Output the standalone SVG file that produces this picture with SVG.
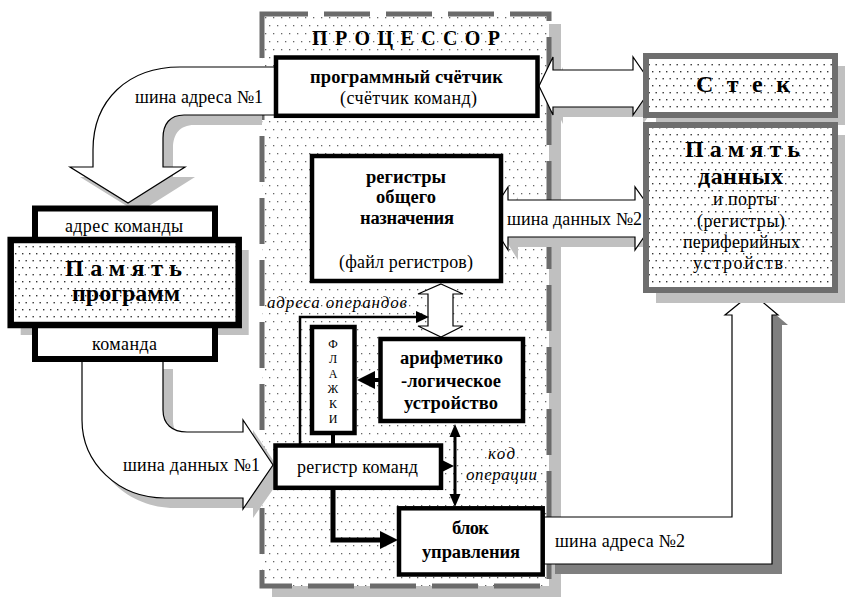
<svg xmlns="http://www.w3.org/2000/svg" width="845" height="597" viewBox="0 0 845 597">
<defs>
<pattern id="dotsP" width="8" height="16" patternUnits="userSpaceOnUse"><rect x="1" y="1" width="1.3" height="1.3" fill="#666"/><rect x="5" y="9" width="1.3" height="1.3" fill="#666"/></pattern>
<pattern id="dotsM" width="7" height="14" patternUnits="userSpaceOnUse"><rect x="1" y="1" width="1.4" height="1.4" fill="#333"/><rect x="4.5" y="8" width="1.4" height="1.4" fill="#333"/></pattern>
<style>
text{font-family:"Liberation Serif","Times New Roman",serif;fill:#000}
.n{font-size:18px}
.b{font-size:18.5px;font-weight:bold}
.B{font-size:24px;font-weight:bold}
.i{font-size:17px;font-style:italic}
.f{font-size:12px}
.box{fill:#fff;stroke:#000;stroke-width:4.5}
.bus{fill:#fff;stroke:#000;stroke-width:1.2;stroke-linejoin:miter}
.sh{fill:#c0c0c0}
.sh2{fill:#7f7f7f}
.ln{fill:none;stroke:#000}
.ah{fill:#000}
.mem{stroke:#6e6e6e;stroke-width:6}
</style>
</defs>
<rect width="845" height="597" fill="#fff"/>

<g id="processor">
<rect class="sh" x="272" y="24" width="289" height="573"/>
<rect x="262" y="14" width="287" height="572" fill="#fff"/>
<rect x="262" y="14" width="287" height="572" fill="url(#dotsP)"/>
<rect x="262" y="14" width="287" height="572" fill="none" stroke="#6b6b6b" stroke-width="5" stroke-dasharray="46 16"/>
<text x="312" y="45" textLength="188" lengthAdjust="spacing" style="font-size:20px;font-weight:bold">П Р О Ц Е С С О Р</text>
</g>

<g id="connectors">
<path class="sh" d="M262 77 L190 77 C138 77 103 110 103 160 L103 177 L80 177 L138 213 L195 177 L173 177 L173 148 C173 134 180 125 194 125 L262 125 Z"/>
<path class="bus" d="M276 67 L180 67 C128 67 93 100 93 150 L93 167 L70 167 L128 203 L185 167 L163 167 L163 138 C163 124 170 115 184 115 L276 115 Z"/>
<text class="n" x="135" y="103" textLength="128" lengthAdjust="spacing">шина адреса №1</text>

<path class="sh" d="M92 369 L92 430 C92 473 128 508 175 508 L253 508 L253 518 L283 475 L253 430 L253 442 L197 442 C182 442 173 434 173 420 L173 369 Z"/>
<path class="bus" d="M82 359 L82 420 C82 463 118 498 165 498 L243 498 L243 509 L273 465 L243 420 L243 432 L187 432 C172 432 163 424 163 410 L163 359 Z"/>
<text class="n" x="123" y="471" textLength="137" lengthAdjust="spacing">шина данных №1</text>

<path class="sh" d="M549 95 L563 67 L563 80 L643 80 L643 67 L663 96 L643 124 L643 117 L563 117 L563 124 Z"/>
<path class="bus" d="M539 86 L553 57 L553 70 L633 70 L633 57 L653 86 L633 115 L633 107 L553 107 L553 115 Z"/>

<path class="sh" d="M498 228 L518 197 L518 210 L645 210 L645 197 L667 228 L645 260 L645 247 L518 247 L518 260 Z"/>
<path class="bus" d="M488 218 L508 187 L508 200 L635 200 L635 187 L657 218 L635 250 L635 237 L508 237 L508 250 Z"/>
<text class="n" x="507" y="225" textLength="135" lengthAdjust="spacing">шина данных №2</text>

<path class="sh2" d="M555 527 L742 527 L742 325 L735 325 L762 303 L788 325 L782 325 L782 574 L555 574 Z"/>
<path class="bus" d="M542 517 L732 517 L732 315 L725 315 L752 293 L778 315 L772 315 L772 564 L542 564 Z"/>
<text class="n" x="555" y="547" textLength="130" lengthAdjust="spacing">шина адреса №2</text>

<path class="bus" d="M441 284 L463 294 L453 294 L453 326 L463 326 L441 337 L418 326 L428 326 L428 294 L418 294 Z"/>

<path class="ln" stroke-width="2.5" d="M300 446 L300 317 L418 317"/>
<path class="ah" d="M429 317 L416 311 L416 323 Z"/>
<text class="i" x="267" y="308" textLength="140" lengthAdjust="spacing">адреса операндов</text>

<path class="ln" stroke-width="4" d="M379 380 L372 380"/>
<path class="ah" d="M357 380 L375 371 L375 389 Z"/>

<path class="ln" stroke-width="4" d="M333 432 L333 446"/>

<path class="ln" stroke-width="3" d="M455 434 L455 498"/>
<path class="ah" d="M455 424 L449.5 437 L460.5 437 Z"/>
<path class="ah" d="M455 507 L449.5 494 L460.5 494 Z"/>
<path class="ah" d="M454 466 L442 460 L442 472 Z"/>
<text class="i" x="488" y="459" textLength="27" lengthAdjust="spacing">код</text>
<text class="i" x="466" y="480" textLength="71" lengthAdjust="spacing">операции</text>

<path class="ln" stroke-width="5" d="M333 488 L333 540 L384 540"/>
<path class="ah" d="M398 540 L380 531 L380 549 Z"/>
</g>

<g id="program-memory">
<rect class="sh" x="20.7" y="250" width="228" height="85"/>
<rect x="35" y="208.5" width="180" height="40" fill="#fff" stroke="#000" stroke-width="6"/>
<rect x="35" y="318" width="180" height="41" fill="#fff" stroke="#000" stroke-width="6"/>
<rect x="10.7" y="240" width="228" height="85" fill="#fff"/>
<rect x="10.7" y="240" width="228" height="85" fill="url(#dotsM)" stroke="#000" stroke-width="6.5"/>
<text class="n" x="65" y="232" textLength="118" lengthAdjust="spacing">адрес команды</text>
<text class="B" x="65" y="276" textLength="117" lengthAdjust="spacing">П а м я т ь</text>
<text class="B" x="72" y="301" textLength="108" lengthAdjust="spacing">программ</text>
<text class="n" x="92" y="350" textLength="65" lengthAdjust="spacing">команда</text>
</g>

<g id="stack">
<rect class="sh" x="656" y="66" width="189" height="59"/>
<rect x="646" y="56" width="189" height="59" fill="#fff"/>
<rect class="mem" x="646" y="56" width="189" height="59" fill="url(#dotsM)"/>
<text class="B" x="696" y="92" textLength="94" lengthAdjust="spacing">С т е к</text>
</g>

<g id="data-memory">
<rect class="sh" x="656" y="135" width="189" height="168"/>
<rect x="646" y="125" width="189" height="165" fill="#fff"/>
<rect class="mem" x="646" y="125" width="189" height="165" fill="url(#dotsM)"/>
<text class="B" x="685" y="157" textLength="115" lengthAdjust="spacing">П а м я т ь</text>
<text class="B" x="698" y="184" textLength="85" lengthAdjust="spacing">данных</text>
<text class="n" x="713" y="205" textLength="64" lengthAdjust="spacing">и порты</text>
<text class="n" x="697" y="227" textLength="88" lengthAdjust="spacing">(регистры)</text>
<text class="n" x="683" y="248" textLength="117" lengthAdjust="spacing">периферийных</text>
<text class="n" x="693" y="269" textLength="90" lengthAdjust="spacing">устройств</text>
</g>

<g id="program-counter">
<rect class="box" x="276" y="57.5" width="261.5" height="58.3" stroke-width="5"/>
<text class="b" x="310" y="83" textLength="193" lengthAdjust="spacing">программный счётчик</text>
<text class="n" x="340" y="104" textLength="137" lengthAdjust="spacing">(счётчик команд)</text>
</g>

<g id="registers">
<rect class="box" x="312" y="156" width="189" height="125"/>
<text class="b" x="366" y="183" textLength="80" lengthAdjust="spacing">регистры</text>
<text class="b" x="376" y="203" textLength="60" lengthAdjust="spacing">общего</text>
<text class="b" x="360" y="224" textLength="94" lengthAdjust="spacing">назначения</text>
<text class="n" x="339" y="268" textLength="134" lengthAdjust="spacing">(файл регистров)</text>
</g>

<g id="flags">
<rect class="box" x="312" y="327" width="42.5" height="106"/>
<g text-anchor="middle">
<text class="f" x="333" y="348">Ф</text>
<text class="f" x="333" y="363">Л</text>
<text class="f" x="333" y="378">А</text>
<text class="f" x="333" y="393">Ж</text>
<text class="f" x="333" y="408">К</text>
<text class="f" x="333" y="423">И</text>
</g>
</g>

<g id="alu">
<rect class="box" x="380.5" y="339" width="142.5" height="82"/>
<text class="b" x="400" y="364" textLength="103" lengthAdjust="spacing">арифметико</text>
<text class="b" x="401" y="387" textLength="100" lengthAdjust="spacing">-логическое</text>
<text class="b" x="404" y="409" textLength="94" lengthAdjust="spacing">устройство</text>
</g>

<g id="instruction-register">
<rect class="box" x="275.5" y="445.5" width="165.5" height="42.3"/>
<text class="n" x="297" y="473" textLength="121" lengthAdjust="spacing">регистр команд</text>
</g>

<g id="control-unit">
<rect class="box" x="399" y="508.3" width="143.7" height="66.2"/>
<text class="b" x="452" y="534" textLength="37" lengthAdjust="spacing">блок</text>
<text class="b" x="422" y="558" textLength="98" lengthAdjust="spacing">управления</text>
</g>
</svg>
